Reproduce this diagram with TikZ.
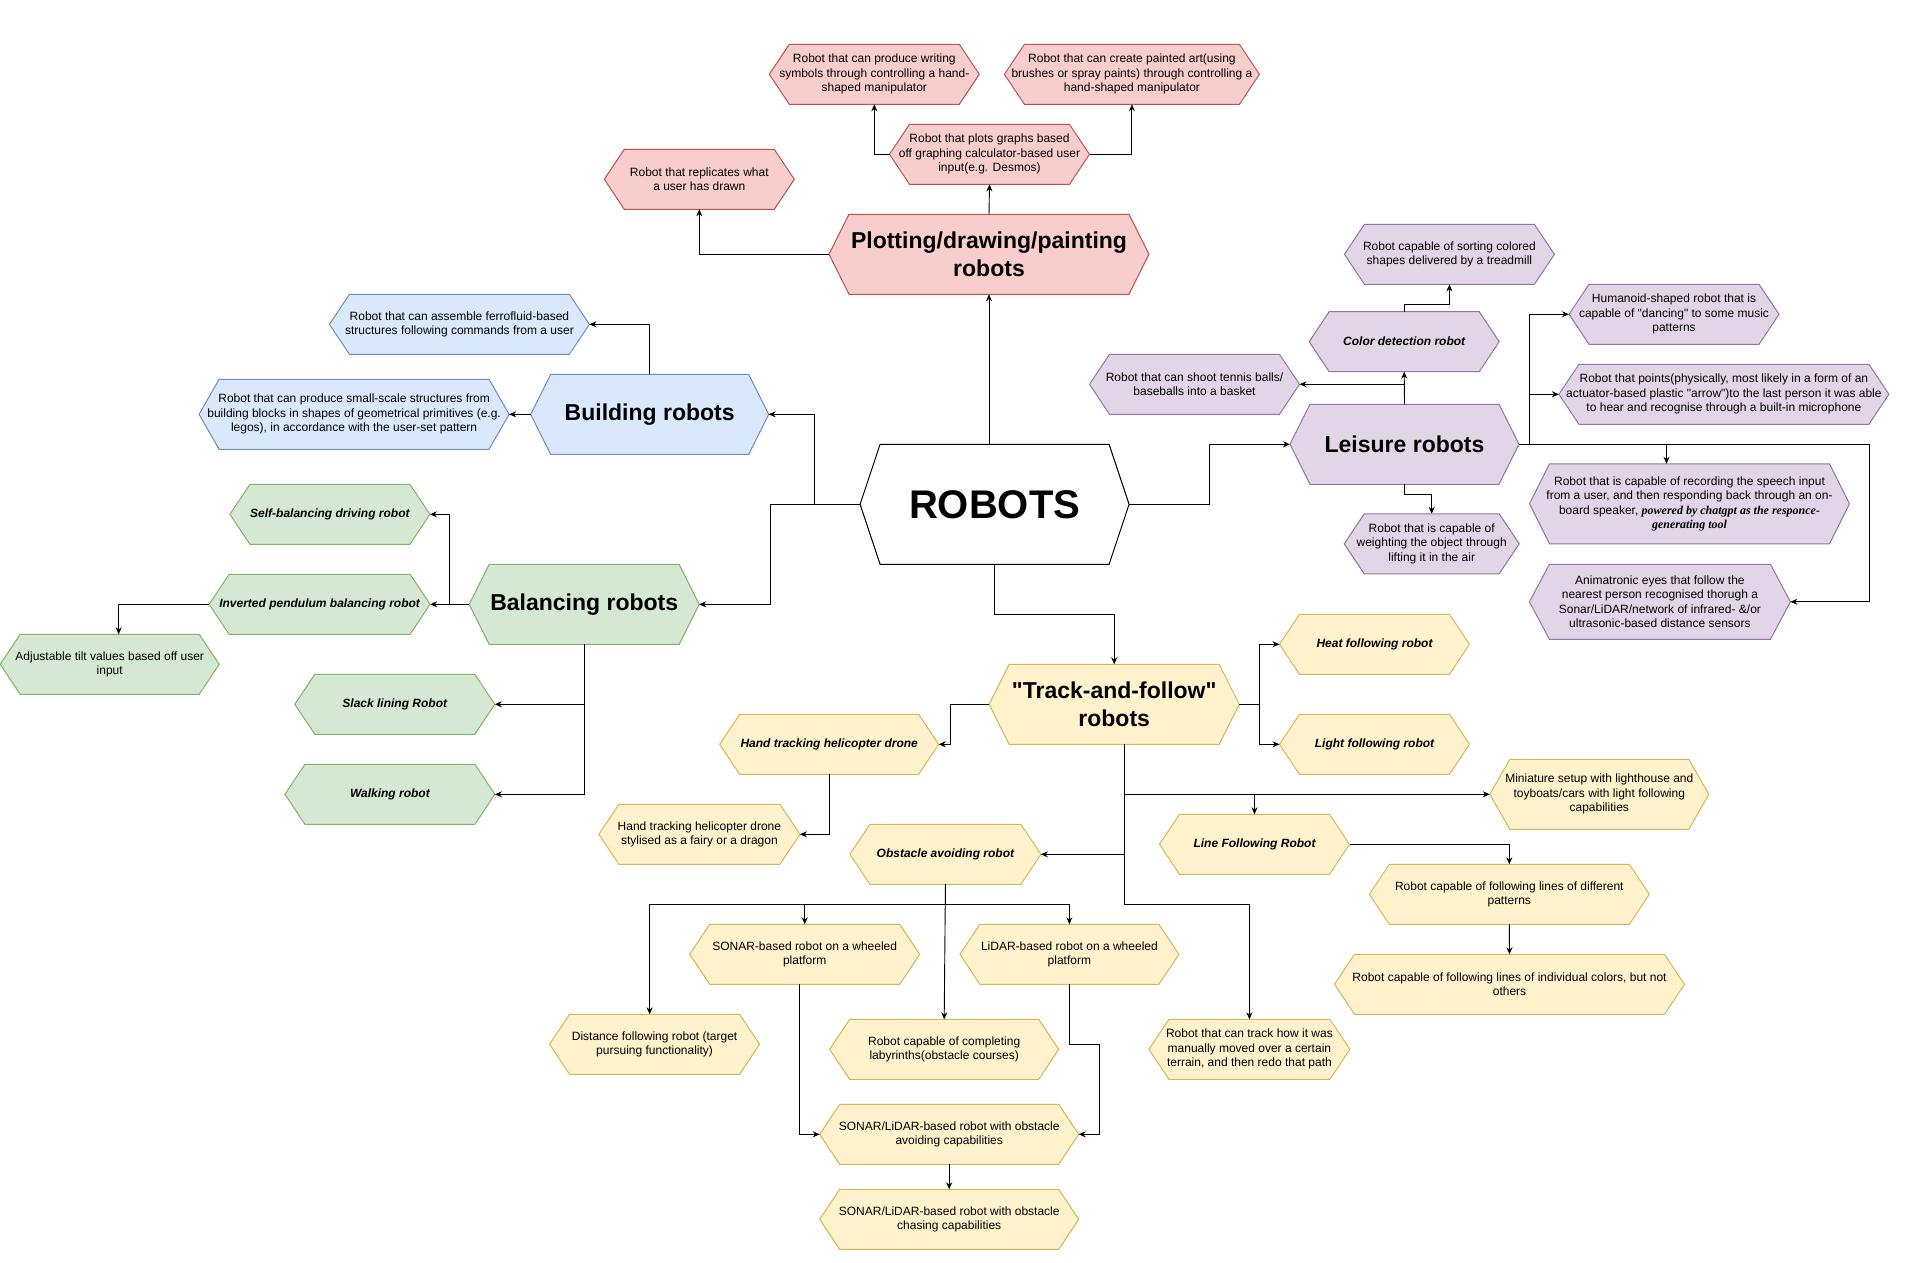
\documentclass[tikz,border=0pt]{standalone}
\usepackage{fontspec}
\setmainfont{Liberation Sans}
\newfontfamily\chatfont{Liberation Serif}
\usepackage{tikz}
\usetikzlibrary{arrows.meta, positioning}

\definecolor{redfill}{HTML}{F8CECC}
\definecolor{redline}{HTML}{B85450}
\definecolor{bluefill}{HTML}{DAE8FC}
\definecolor{blueline}{HTML}{6C8EBF}
\definecolor{greenfill}{HTML}{D5E8D4}
\definecolor{greenline}{HTML}{82B366}
\definecolor{purplefill}{HTML}{E1D5E7}
\definecolor{purpleline}{HTML}{9673A6}
\definecolor{yellowfill}{HTML}{FFF2CC}
\definecolor{yellowline}{HTML}{D6B656}

% hexagon with pointed left and right ends
\makeatletter
\def\hexinset{20pt}
\pgfdeclareshape{hexbox}{
  \inheritsavedanchors[from=rectangle]
  \inheritanchorborder[from=rectangle]
  \inheritanchor[from=rectangle]{center}
  \inheritanchor[from=rectangle]{north}
  \inheritanchor[from=rectangle]{south}
  \inheritanchor[from=rectangle]{east}
  \inheritanchor[from=rectangle]{west}
  \inheritanchor[from=rectangle]{north east}
  \inheritanchor[from=rectangle]{north west}
  \inheritanchor[from=rectangle]{south east}
  \inheritanchor[from=rectangle]{south west}
  \inheritanchor[from=rectangle]{base}
  \inheritanchor[from=rectangle]{mid}
  \backgroundpath{
    \southwest \edef\hxl{\the\pgf@x}\edef\hxb{\the\pgf@y}
    \northeast \edef\hxr{\the\pgf@x}\edef\hxt{\the\pgf@y}
    \pgfmathsetmacro\hxm{(\hxb+\hxt)/2}
    \pgfpathmoveto{\pgfpoint{\hxl}{\hxm pt}}
    \pgfpathlineto{\pgfpoint{\hxl+\hexinset}{\hxt}}
    \pgfpathlineto{\pgfpoint{\hxr-\hexinset}{\hxt}}
    \pgfpathlineto{\pgfpoint{\hxr}{\hxm pt}}
    \pgfpathlineto{\pgfpoint{\hxr-\hexinset}{\hxb}}
    \pgfpathlineto{\pgfpoint{\hxl+\hexinset}{\hxb}}
    \pgfpathclose
  }
}
\makeatother

\tikzstyle{hexnode} = [hexbox, outer sep=0pt, inner sep=2pt, align=center, line width=1pt, minimum height=60pt, font=\fontsize{12}{14.5}\selectfont]
\tikzstyle{hub} = [hexnode, draw=black, fill=white, font=\fontsize{40}{48}\selectfont\bfseries]
\tikzstyle{category} = [hexnode, minimum height=80pt, font=\fontsize{23}{28}\selectfont\bfseries]
\tikzstyle{named} = [font=\fontsize{12}{14.5}\selectfont\bfseries\itshape]
\tikzstyle{plotting} = [draw=redline, fill=redfill]
\tikzstyle{building} = [draw=blueline, fill=bluefill]
\tikzstyle{balancing} = [draw=greenline, fill=greenfill]
\tikzstyle{leisure} = [draw=purpleline, fill=purplefill]
\tikzstyle{tracking} = [draw=yellowline, fill=yellowfill]
\tikzstyle{arrow} = [line width=0.9pt, -{Stealth[length=7pt,width=6pt]}]

\begin{document}
\begin{tikzpicture}[x=1pt, y=-1pt]
	\useasboundingbox (0,0) rectangle (1909,1263);

	\node (robots) [hub, minimum width=269pt, minimum height=120pt] at (994.6,504.3) {ROBOTS};

	% plotting
	\node (plot) [category, plotting, minimum width=320pt] at (989,254.3) {Plotting/drawing/painting\\robots};
	\node (replicate) [hexnode, plotting, minimum width=190pt] at (699.3,179.3) {Robot that replicates what\\a user has drawn};
	\node (graphs) [hexnode, plotting, minimum width=200pt] at (989.5,154.3) {Robot that plots graphs based\\off graphing calculator-based user\\input(e.g. Desmos)};
	\node (writing) [hexnode, plotting, minimum width=210pt] at (874.3,74.3) {Robot that can produce writing\\symbols through controlling a hand-\\shaped manipulator};
	\node (painted) [hexnode, plotting, minimum width=255pt] at (1131.9,74.3) {Robot that can create painted art(using\\brushes or spray paints) through controlling a\\hand-shaped manipulator};

	% building
	\node (build) [category, building, minimum width=238pt] at (649.7,414.3) {Building robots};
	\node (ferro) [hexnode, building, minimum width=260pt] at (459.4,324.3) {Robot that can assemble ferrofluid-based\\structures following commands from a user};
	\node (primitives) [hexnode, building, minimum width=310pt, minimum height=70pt] at (354.1,414.3) {Robot that can produce small-scale structures from\\building blocks in shapes of geometrical primitives (e.g.\\legos), in accordance with the user-set pattern};

	% balancing
	\node (balance) [category, balancing, minimum width=230pt] at (584.2,604.3) {Balancing robots};
	\node (selfbal) [hexnode, named, balancing, minimum width=200pt] at (329.9,514.3) {Self-balancing driving robot};
	\node (pendulum) [hexnode, named, balancing, minimum width=221pt] at (319.6,604.3) {Inverted pendulum balancing robot};
	\node (tilt) [hexnode, balancing, minimum width=219pt] at (109.7,664.3) {Adjustable tilt values based off user\\input};
	\node (slack) [hexnode, named, balancing, minimum width=200pt] at (394.8,704.3) {Slack lining Robot};
	\node (walking) [hexnode, named, balancing, minimum width=210pt] at (389.9,794.3) {Walking robot};

	% leisure
	\node (leis) [category, leisure, minimum width=229pt] at (1404.5,444.3) {Leisure robots};
	\node (sorting) [hexnode, leisure, minimum width=210pt] at (1449.4,254.3) {Robot capable of sorting colored\\shapes delivered by a treadmill};
	\node (colour) [hexnode, named, leisure, minimum width=190pt] at (1404.2,341.7) {Color detection robot};
	\node (tennis) [hexnode, leisure, minimum width=210pt] at (1194.5,384.3) {Robot that can shoot tennis balls/\\baseballs into a basket};
	\node (dancing) [hexnode, leisure, minimum width=210pt] at (1674,314.3) {Humanoid-shaped robot that is\\capable of \textquotedbl dancing\textquotedbl{} to some music\\patterns};
	\node (pointing) [hexnode, leisure, minimum width=330pt] at (1723.9,394.3) {Robot that points(physically, most likely in a form of an\\actuator-based plastic \textquotedbl arrow\textquotedbl)to the last person it was able\\to hear and recognise through a built-in microphone};
	\node (speech) [hexnode, leisure, minimum width=320pt, minimum height=80pt] at (1689.5,503.8) {Robot that is capable of recording the speech input\\from a user, and then responding back through an on-\\board speaker, {\chatfont\bfseries\itshape powered by chatgpt as the responce-}\\{\chatfont\bfseries\itshape generating tool}};
	\node (eyes) [hexnode, leisure, minimum width=261pt, minimum height=75pt] at (1659.9,601.8) {Animatronic eyes that follow the\\nearest person recognised thorugh a\\Sonar/LiDAR/network of infrared- \&/or\\ultrasonic-based distance sensors};
	\node (weighing) [hexnode, leisure, minimum width=175pt] at (1431.7,543.8) {Robot that is capable of\\weighting the object through\\lifting it in the air};

	% track-and-follow
	\node (track) [category, tracking, minimum width=250pt] at (1114.2,704.3) {\textquotedbl Track-and-follow\textquotedbl\\robots};
	\node (heat) [hexnode, named, tracking, minimum width=190pt] at (1374.5,644.3) {Heat following robot};
	\node (light) [hexnode, named, tracking, minimum width=190pt] at (1374.5,744.3) {Light following robot};
	\node (lighthouse) [hexnode, tracking, minimum width=219pt, minimum height=70pt] at (1599.3,794.3) {Miniature setup with lighthouse and\\toyboats/cars with light following\\capabilities};
	\node (line) [hexnode, named, tracking, minimum width=190pt] at (1254.5,844.3) {Line Following Robot};
	\node (patterns) [hexnode, tracking, minimum width=280pt] at (1509.3,894.3) {Robot capable of following lines of different\\patterns};
	\node (colours) [hexnode, tracking, minimum width=350pt] at (1509.5,984.3) {Robot capable of following lines of individual colors, but not\\others};
	\node (drone) [hexnode, named, tracking, minimum width=219pt] at (829.2,744.3) {Hand tracking helicopter drone};
	\node (fairy) [hexnode, tracking, minimum width=201pt] at (699.4,834.3) {Hand tracking helicopter drone\\stylised as a fairy or a dragon};
	\node (obstacle) [hexnode, named, tracking, minimum width=191pt] at (945.4,854.3) {Obstacle avoiding robot};
	\node (sonar) [hexnode, tracking, minimum width=230pt] at (804.7,954.3) {SONAR-based robot on a wheeled\\platform};
	\node (lidar) [hexnode, tracking, minimum width=219pt] at (1069.4,954.3) {LiDAR-based robot on a wheeled\\platform};
	\node (distance) [hexnode, tracking, minimum width=210pt] at (654.6,1044.3) {Distance following robot (target\\pursuing functionality)};
	\node (labyrinth) [hexnode, tracking, minimum width=229pt] at (944.2,1049.3) {Robot capable of completing\\labyrinths(obstacle courses)};
	\node (path) [hexnode, tracking, minimum width=201pt] at (1249.4,1049.3) {Robot that can track how it was\\manually moved over a certain\\terrain, and then redo that path};
	\node (avoiding) [hexnode, tracking, minimum width=259pt] at (949.2,1134.3) {SONAR/LiDAR-based robot with obstacle\\avoiding capabilities};
	\node (chasing) [hexnode, tracking, minimum width=259pt] at (949.2,1219.3) {SONAR/LiDAR-based robot with obstacle\\chasing capabilities};

	% hub connectors
	\draw [arrow] (plot.south |- robots.north) -- (plot.south);
	\draw [arrow] (robots.west) -- ++(-45.4,0) |- (build.east);
	\draw [arrow] (robots.west) -- ++(-90,0) |- (balance.east);
	\draw [arrow] (robots.east) -- ++(80,0) |- (leis.west);
	\draw [arrow] (robots.south) -- ++(0,50) -| (track.north);

	\draw [arrow] (plot.west) -| (replicate.south);
	\draw [arrow] (plot.north) -- (graphs.south);
	\draw [arrow] (graphs.west) -| (writing.south);
	\draw [arrow] (graphs.east) -| (painted.south);

	\draw [arrow] (build.north) |- (ferro.east);
	\draw [arrow] (build.west) -- (primitives.east);

	\draw [arrow] (balance.west) -- ++(-19.4,0) |- (selfbal.east);
	\draw [arrow] (balance.west) -- (pendulum.east);
	\draw [arrow] (pendulum.west) -| ([xshift=9pt]tilt.north);
	\draw [arrow] (balance.south) |- (slack.east);
	\draw [arrow] (balance.south) |- (walking.east);

	\draw [arrow] (leis.north) -- (colour.south);
	\draw [arrow] (leis.north) |- (tennis.east);
	\draw [arrow] (colour.north) -- ++(0,-7.4) -| (sorting.south);
	\draw [arrow] (leis.east) -- ++(10.5,0) |- (dancing.west);
	\draw [arrow] (leis.east) -- ++(10.5,0) |- (pointing.west);
	\draw [arrow] (leis.east) -| ([xshift=-23pt]speech.north);
	\draw [arrow] (leis.east) -- ++(350.5,0) |- (eyes.east);
	\draw [arrow] (leis.south) -- ++(0,10) -| (weighing.north);

	\coordinate (trunk) at ([xshift=10pt]track.south);
	\draw [arrow] (track.west) -- ++(-39,0) |- (drone.east);
	\draw [arrow] (track.east) -- ++(20,0) |- (heat.west);
	\draw [arrow] (track.east) -- ++(20,0) |- (light.west);
	\draw [arrow] (trunk) |- (lighthouse.west);
	\draw [arrow] (trunk) -- ++(0,50) -| (line.north);
	\draw [arrow] (trunk) |- (obstacle.east);
	\draw [arrow] (trunk) -- ++(0,160) -| (path.north);
	\draw [arrow] (line.east) -| (patterns.north);
	\draw [arrow] (patterns.south) -- (colours.north);
	\draw [arrow] (drone.south) |- (fairy.east);

	\draw [arrow] (obstacle.south) -- ++(0,20) -| ([xshift=-5pt]distance.north);
	\draw [arrow] (obstacle.south) -- ++(0,20) -| (sonar.north);
	\draw [arrow] (obstacle.south) -- ++(0,20) -| (lidar.north);
	\draw [arrow] (obstacle.south) -- (labyrinth.north);
	\draw [arrow] ([xshift=-5pt]sonar.south) |- (avoiding.west);
	\draw [arrow] (lidar.south) -- ++(0,60) -- ++(30,0) |- (avoiding.east);
	\draw [arrow] (avoiding.south) -- (chasing.north);
\end{tikzpicture}
\end{document}
